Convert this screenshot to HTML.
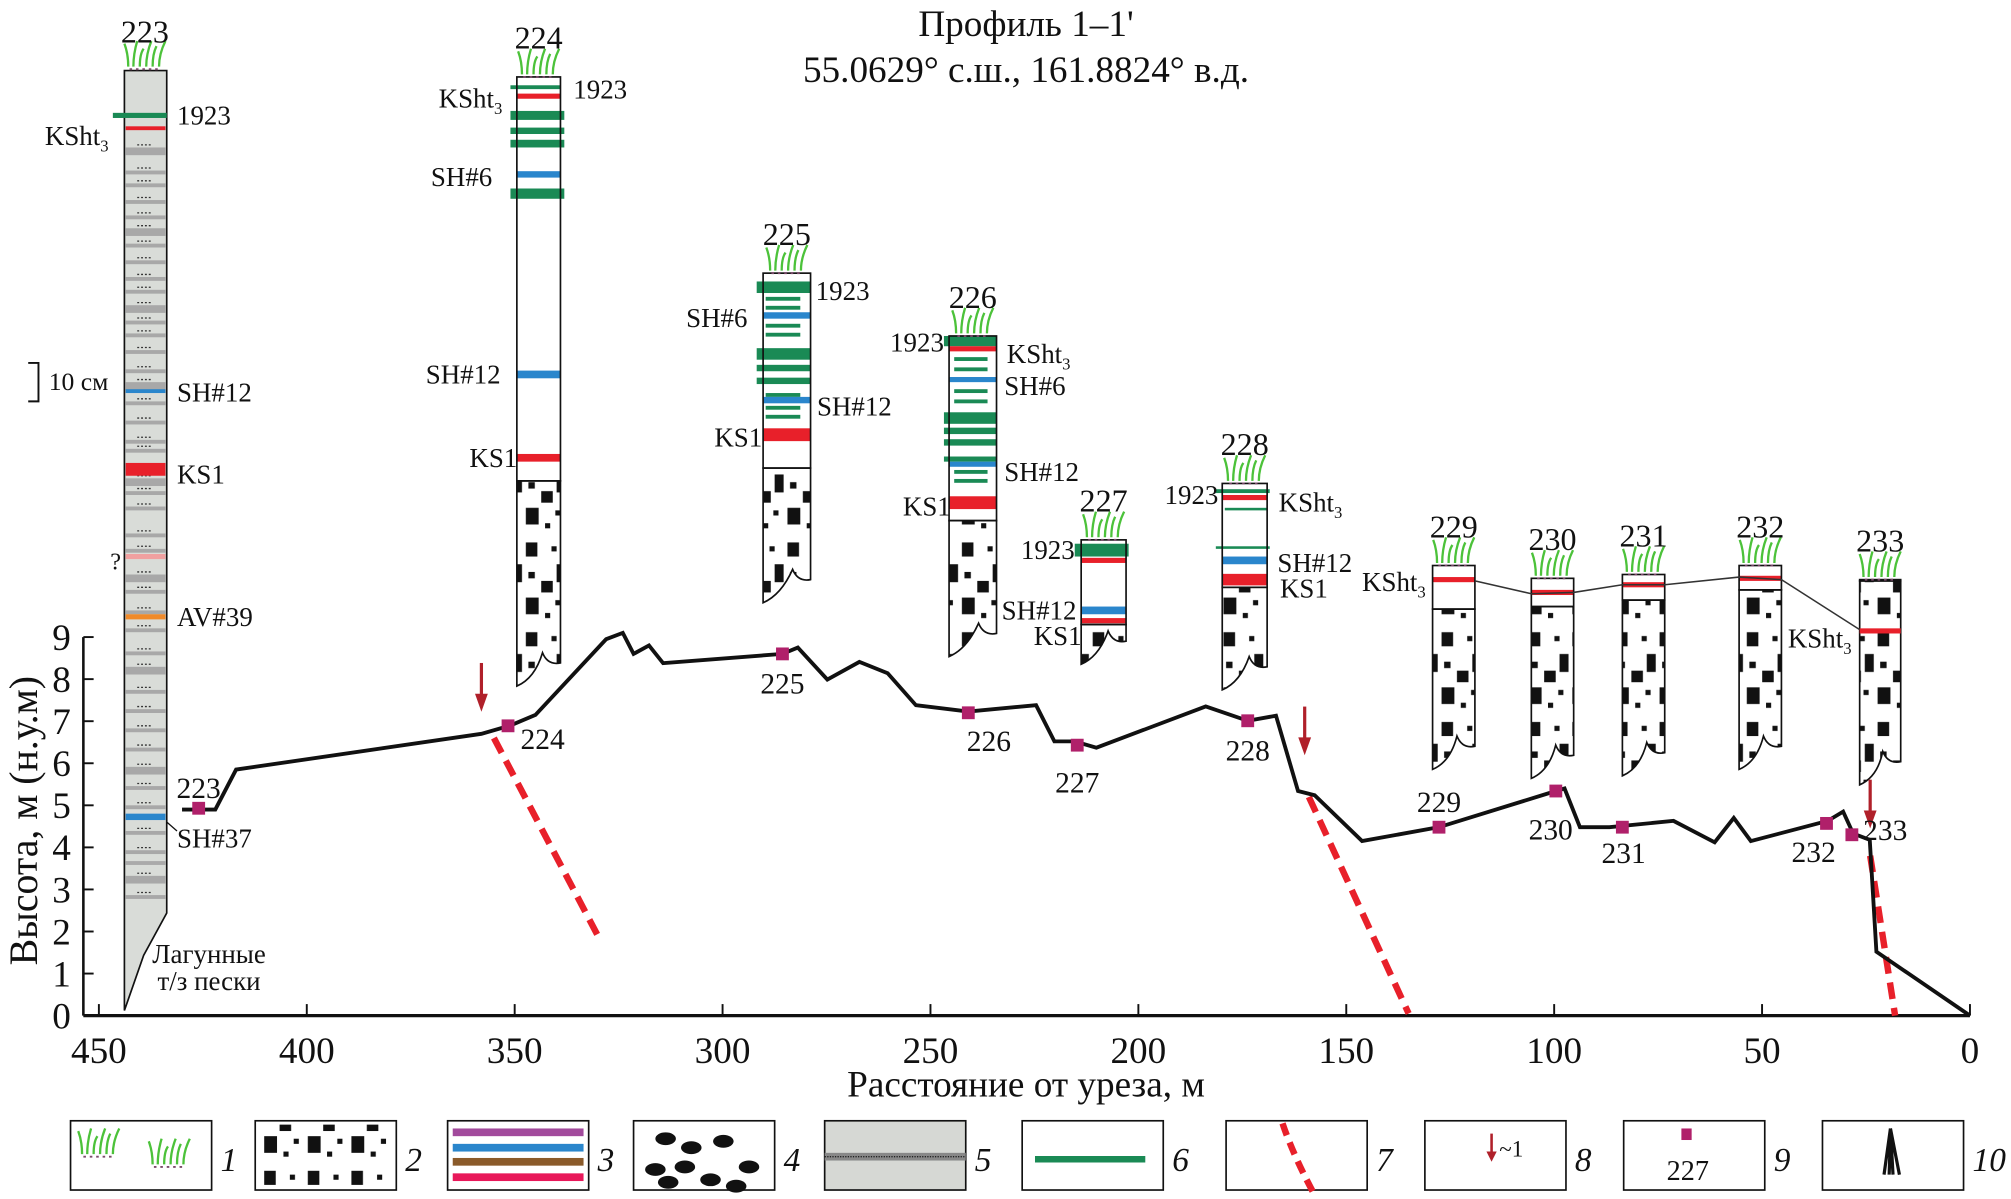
<!DOCTYPE html>
<html><head><meta charset="utf-8">
<style>
html,body{margin:0;padding:0;background:#fff;}
svg{display:block;}
text{font-family:"Liberation Serif",serif;fill:#111;}
</style></head>
<body>
<svg id="fig" xmlns="http://www.w3.org/2000/svg" width="2011" height="1199" viewBox="0 0 1568 935" preserveAspectRatio="none">
<defs>
<pattern id="gravel" patternUnits="userSpaceOnUse" width="34" height="70">
<rect width="34" height="70" fill="#fff"/>
<rect x="2" y="3" width="9" height="11" fill="#111"/><rect x="22" y="6" width="4" height="4" fill="#111"/>
<rect x="26" y="20" width="7" height="14" fill="#111"/>
<rect x="4" y="26" width="5" height="5" fill="#111"/><rect x="14" y="33" width="9" height="9" fill="#111"/>
<rect x="2" y="46" width="10" height="13" fill="#111"/><rect x="25" y="48" width="4" height="4" fill="#111"/>
<rect x="17" y="58" width="4" height="4" fill="#111"/>
</pattern>
</defs>
<g id="root"></g>
</svg>
<script>
// ---- chart data ----
const xTicks = [450,400,350,300,250,200,150,100,50,0];
const yTicks = [0,1,2,3,4,5,6,7,8,9];
const profileDist = [430,422,417,358,351,345,328,324,321.4,317.7,314.3,285.6,281.9,274.8,267.1,260.3,253.5,240.9,224.6,220.2,215.3,210.1,183.8,173.7,166.9,161.6,157.6,146.2,127.7,99.6,97.5,93.8,86.7,71.3,61.4,56.8,52.7,34.2,30.5,28.1,24.1,22.5,0];
const profileHeight = [4.9,4.9,5.85,6.7,6.9,7.15,8.95,9.1,8.6,8.8,8.38,8.6,8.75,7.99,8.41,8.14,7.38,7.23,7.38,6.52,6.52,6.37,7.35,7.01,7.13,5.34,5.24,4.15,4.48,5.34,5.4,4.48,4.48,4.63,4.12,4.7,4.15,4.63,4.85,4.33,4.18,1.52,0];
const siteNames = ["223","224","225","226","227","228","229","230","231","232","233"];
const siteDist = [426,351.6,285.6,240.9,214.7,173.7,127.7,99.6,83.6,34.5,28.4];
const siteHeight = [4.93,6.89,8.6,7.2,6.43,7.01,4.48,5.34,4.48,4.57,4.3];
const faultStartDist = [355,159,24]; const faultStartH = [6.6,5.2,3.8];
const faultEndDist = [330,135,18]; const faultEndH = [1.9,0.05,0];
const arrowDist = [358,160,24];

const X = d => 1536 - d*3.242;
const Y = h => 792 - h*32.8;
const NS="http://www.w3.org/2000/svg";
const root=document.getElementById('root');
function el(tag,attrs,parent){const e=document.createElementNS(NS,tag);for(const k in attrs)e.setAttribute(k,attrs[k]);(parent||root).appendChild(e);return e;}
function tx(str,x,y,size,anchor,parent,extra){const t=el('text',Object.assign({x:x,y:y,'font-size':size,'text-anchor':anchor||'start'},extra||{}),parent);t.textContent=str;return t;}

// title
const title=el('g',{});


tx("Профиль 1–1'",800,28,29,'middle',title);
tx("55.0629° с.ш., 161.8824° в.д.",800,64,29,'middle',title);

// axes
const axes=el('g',{});


el('line',{x1:65,y1:792,x2:1536,y2:792,stroke:'#111','stroke-width':2.5},axes);
el('line',{x1:65,y1:Y(9),x2:65,y2:792,stroke:'#111','stroke-width':2},axes);
xTicks.forEach(v=>{
  const g=el('g',{},axes);
  
  
  el('line',{x1:X(v),y1:792,x2:X(v),y2:783,stroke:'#111','stroke-width':1.5},g);
  tx(String(v),X(v),829,29,'middle',g);
});
yTicks.forEach(v=>{
  const g=el('g',{},axes);
  
  
  el('line',{x1:65,y1:Y(v),x2:73,y2:Y(v),stroke:'#111','stroke-width':1.5},g);
  tx(String(v),48,Y(v)+10,29,'middle',g);
});
const xt=tx("Расстояние от уреза, м",800,855,29,'middle',axes);


const yt=tx("Высота, м (н.у.м)",0,0,31,'middle',axes,{transform:'translate(29,640) rotate(-90)'});



// grass icon
function grass(cx,y,parent){
  const g=el('g',{},parent);
  
  
  const strokes=[[-13,-18,-16],[-9,-20,-6],[-4,-14,-1],[1,-20,5],[6,-16,9],[11,-20,16]];
  strokes.forEach(s=>el('path',{d:`M${cx+s[0]} ${y} Q${cx+s[0]} ${y-10} ${cx+s[2]} ${y+s[1]}`,stroke:'#4cc23a','stroke-width':1.8,fill:'none'},g));
  el('line',{x1:cx-12,y1:y+2,x2:cx+12,y2:y+2,stroke:'#7a4a6a','stroke-width':1.5,'stroke-dasharray':'2 3'},g);
}

// column builder
function column(o){
  const g=el('g',{});
  
  
  const w=o.x2-o.x1;
  el('rect',{x:o.x1,y:o.top,width:w,height:o.gs-o.top,fill:o.fill||'#fff'},g);
  const bl=o.bot, br=o.bot-18;
  el('path',{d:`M${o.x1} ${o.gs} L${o.x2} ${o.gs} L${o.x2} ${br} Q${o.x2-10} ${br+2} ${o.x2-14} ${br-8} Q${o.x1+14} ${bl-6} ${o.x1} ${bl} Z`,fill:'url(#gravel)',stroke:'#111','stroke-width':1.3},g);
  (o.layers||[]).forEach(L=>{
    el('rect',{x:L[3]!==undefined?L[3]:o.x1,y:L[0]-L[1]/2,width:(L[4]!==undefined?L[4]:o.x2)-(L[3]!==undefined?L[3]:o.x1),height:L[1],fill:L[2]},g);
  });
  el('rect',{x:o.x1,y:o.top,width:w,height:o.gs-o.top,fill:'none',stroke:'#111','stroke-width':1.3},g);
  grass((o.x1+o.x2)/2,o.top-2,g);
  tx(o.name,(o.x1+o.x2)/2,o.top-22,25,'middle',g);
  (o.labels||[]).forEach(L=>{const t=tx(L[0],L[1],L[2],21,L[3]||'start',g); if(L[4]){const s=el('tspan',{'font-size':13,dy:5},t);s.textContent=L[4];}});
  return g;
}
const G='#1a8a55',R='#e8202a',B='#2a86cc';

// column 223
(function(){
  const g=el('g',{});
  
  
  el('path',{d:'M97 55 L130 55 L130 712 L112 745 L97 788 Z',fill:'#d9dcd8',stroke:'#111','stroke-width':1.3},g);
  const bands=[117,135,145,158,170,180,192,205,218,228,240,252,262,275,290,300,315,330,345,352,375,385,397,418,430,450,462,478,492,510,522,540,555,570,585,600,615,630,650,665,685,700];
  bands.forEach((b,i)=>{
    el('rect',{x:98,y:b-2,width:31,height:(i%5===0?6:3),fill:'#a8a8a8'},g);
    el('line',{x1:107,y1:b-4,x2:118,y2:b-4,stroke:'#333','stroke-width':1,'stroke-dasharray':'1.5 1.5'},g);
  });
  [[90,4,G,88,130],[100,3,R],[305,3,B],[366,10,R],[434,4,'#f0a0a0'],[481,4,'#f08a2a'],[637,5,B],[673,3,'#aaa']].forEach(L=>{
    el('rect',{x:L[3]||98,y:L[0]-L[1]/2,width:(L[4]||129)-(L[3]||98),height:L[1],fill:L[2]},g);
  });
  grass(113,52,g);
  tx('223',113,33,25,'middle',g);
  tx('1923',138,97,21,'start',g);
  const k=tx('KSht',35,113,21,'start',g);const s=el('tspan',{'font-size':13,dy:5},k);s.textContent='3';
  tx('SH#12',138,313,21,'start',g);
  tx('KS1',138,377,21,'start',g);
  tx('?',86,444,19,'start',g);
  tx('AV#39',138,488,21,'start',g);
  tx('SH#37',138,661,21,'start',g);
  el('line',{x1:130,y1:641,x2:138,y2:648,stroke:'#111','stroke-width':1},g);
  tx('Лагунные',163,751,21,'middle',g);
  tx('т/з пески',163,772,21,'middle',g);
  el('path',{d:'M22 283 L30 283 L30 313 L22 313',fill:'none',stroke:'#111','stroke-width':1.5},g);
  tx('10 см',38,304,20,'start',g);
})();

column({name:'224',x1:403,x2:437,top:60,gs:375,bot:535,
  layers:[[68,3,G,398,437],[75,4,R],[90,7,G,398,440],[102,5,G,398,440],[112,6,G,398,440],[136,5,B],[151,8,G,398,440],[292,6,B],[357,6,R]],
  labels:[['1923',447,77],['KSht',342,84,'start','3'],['SH#6',336,145],['SH#12',332,299],['KS1',366,364]]});
column({name:'225',x1:595,x2:632,top:213,gs:365,bot:470,
  layers:[[224,9,G,590,632],[233,3,G,597,624],[240,3,G,597,624],[246,5,B],[254,3,G,597,624],[261,3,G,597,624],[276,9,G,590,632],[287,5,G,590,632],[297,5,G,590,632],[308,3,G,597,624],[312,5,B],[318,3,G,597,624],[325,3,G,597,624],[339,10,R]],
  labels:[['1923',636,234],['SH#6',535,255],['SH#12',637,324],['KS1',557,348]]});
column({name:'226',x1:740,x2:777,top:262,gs:406,bot:512,
  layers:[[266,8,G,736,777],[272,4,R],[280,3,G,744,770],[288,3,G,744,770],[296,4,B],[305,3,G,744,770],[313,3,G,744,770],[326,9,G,736,777],[336,5,G,736,777],[345,5,G,736,777],[358,4,G,736,777],[362,4,B],[368,3,G,744,770],[375,3,G,744,770],[392,10,R]],
  labels:[['1923',694,274],['KSht',785,283,'start','3'],['SH#6',783,308],['SH#12',783,375],['KS1',704,402]]});
column({name:'227',x1:843,x2:878,top:421,gs:487,bot:518,
  layers:[[429,10,G,838,880],[437,4,R],[476,6,B],[484,4,R]],
  labels:[['1923',796,436],['SH#12',781,483],['KS1',806,503]]});
column({name:'228',x1:953,x2:988,top:377,gs:458,bot:538,
  layers:[[383,3,G,948,990],[388,4,R],[397,2,G,955,988],[427,2,G,948,990],[437,6,B],[452,9,R]],
  labels:[['1923',908,393],['KSht',997,399,'start','3'],['SH#12',996,446],['KS1',998,466]]});
column({name:'229',x1:1117,x2:1150,top:441,gs:475,bot:600,layers:[[452,4,R]],labels:[['KSht',1062,461,'start','3']]});
column({name:'230',x1:1194,x2:1227,top:451,gs:473,bot:607,layers:[[462,4,R]]});
column({name:'231',x1:1265,x2:1298,top:448,gs:468,bot:605,layers:[[456,4,R]]});
column({name:'232',x1:1356,x2:1389,top:441,gs:460,bot:600,layers:[[451,4,R]]});
column({name:'233',x1:1450,x2:1482,top:452,gs:453,bot:612,layers:[[492,4,R]],labels:[['KSht',1394,505,'start','3']]});
const corr=el('polyline',{points:'1150,453 1194,463 1227,462 1265,456 1298,456 1356,450 1389,452 1450,491',fill:'none',stroke:'#333','stroke-width':1.2});



// fault lines
faultStartDist.forEach((d,i)=>{
  const f=el('line',{x1:X(d),y1:Y(faultStartH[i]),x2:X(faultEndDist[i]),y2:Y(faultEndH[i]),stroke:'#e8202a','stroke-width':5,'stroke-dasharray':'13 7'});
  
  
});

// profile
const pts=profileDist.map((d,i)=>X(d)+','+Y(profileHeight[i])).join(' ');
const prof=el('polyline',{points:pts,fill:'none',stroke:'#111','stroke-width':3,'stroke-linejoin':'miter'});



// arrows
const arrowTop=[517,551,608];
arrowDist.forEach((d,i)=>{
  const g=el('g',{});
  
  
  const x=X(d);
  el('line',{x1:x,y1:arrowTop[i],x2:x,y2:arrowTop[i]+28,stroke:'#b0202a','stroke-width':2.5},g);
  el('path',{d:`M${x-5} ${arrowTop[i]+24} L${x+5} ${arrowTop[i]+24} L${x} ${arrowTop[i]+38} Z`,fill:'#b0202a'},g);
});

// site markers
const labOff=[[0,-8],[27,18],[0,31],[16,30],[0,37],[0,31],[0,-12],[-4,38],[1,28],[-10,30],[26,4]];
siteNames.forEach((n,i)=>{
  const g=el('g',{});
  
  
  const x=X(siteDist[i]),y=Y(siteHeight[i]);
  el('rect',{x:x-5,y:y-5,width:10,height:10,fill:'#b0206a'},g);
  tx(n,x+labOff[i][0],y+labOff[i][1],23,'middle',g);
});

// legend
const legX=[55,199,349,494,643,797,956,1111,1266,1421];
const legNums=['1','2','3','4','5','6','7','8','9','10'];
legX.forEach((x,i)=>{
  const g=el('g',{});
  
  
  el('rect',{x:x,y:874,width:110,height:54,fill:i===4?'#d6d8d4':'#fff',stroke:'#111','stroke-width':1.3},g);
  tx(legNums[i],x+117,913,26,'start',g,{'font-style':'italic'});
  if(i===0){grass(x+22,900,g);grass(x+77,908,g);}
  if(i===1){el('rect',{x:x+3,y:877,width:104,height:48,fill:'url(#gravel)'},g);}
  if(i===2){[[883,'#a24a9c'],[895,'#2a86cc'],[906,'#8a5a2a'],[918,'#e8185a']].forEach(c=>el('rect',{x:x+4,y:c[0]-3,width:102,height:6,fill:c[1]},g));}
  if(i===3){[[20,888],[65,890],[40,895],[35,910],[12,912],[85,910],[55,920],[22,922],[75,925]].forEach(p=>el('ellipse',{cx:x+p[0]+5,cy:p[1],rx:8,ry:5,fill:'#111'},g));}
  if(i===4){el('rect',{x:x,y:899,width:110,height:6,fill:'#888'},g);el('line',{x1:x,y1:902,x2:x+110,y2:902,stroke:'#222','stroke-dasharray':'1 1'},g);}
  if(i===5){el('line',{x1:x+10,y1:904,x2:x+96,y2:904,stroke:G,'stroke-width':5},g);}
  if(i===6){el('path',{d:`M${x+44} 876 Q${x+52} 900 ${x+68} 930`,stroke:R,'stroke-width':5,fill:'none','stroke-dasharray':'10 6'},g);}
  if(i===7){el('line',{x1:x+52,y1:884,x2:x+52,y2:900,stroke:'#b0202a','stroke-width':2},g);el('path',{d:`M${x+48} 898 L${x+56} 898 L${x+52} 906 Z`,fill:'#b0202a'},g);tx('~1',x+58,902,18,'start',g,{fill:'#b0202a'});}
  if(i===8){el('rect',{x:x+45,y:880,width:8,height:9,fill:'#b0206a'},g);tx('227',x+50,920,22,'middle',g);}
  if(i===9){el('path',{d:`M${x+53} 880 L${x+48} 916 M${x+53} 880 L${x+55} 916 M${x+53} 880 L${x+60} 916 M${x+53} 885 L${x+52} 916`,stroke:'#111','stroke-width':2.5,fill:'none'},g);}
});
</script>
</body></html>
